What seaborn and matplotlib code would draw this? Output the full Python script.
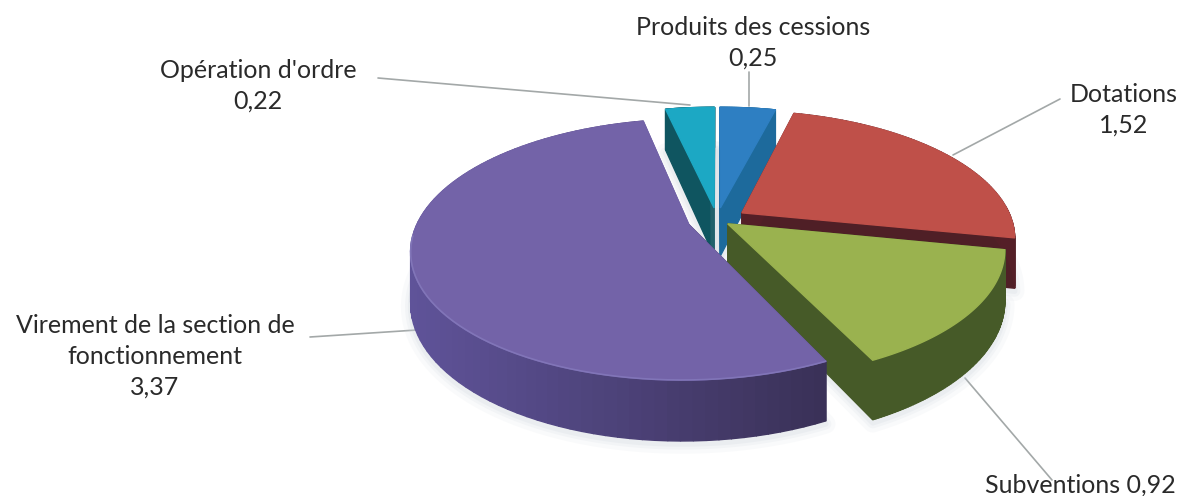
import matplotlib
matplotlib.use('Agg')
import matplotlib.pyplot as plt
from matplotlib.colors import to_rgb
from matplotlib.patches import Polygon
import numpy as np
import seaborn as sns

# values in reading order, clockwise from the top
categories = ['Produits des cessions', 'Dotations', 'Subventions',
              'Virement de la section de\nfonctionnement', "Opération d'ordre"]
values = [0.25, 1.52, 0.92, 3.37, 0.22]
explode = [0.10, 0.11, 0.05, 0.11, 0.10]

top_colors = ['#2e7fc2', '#bf5049', '#9ab24f', '#7363a8', '#1ca8c4']
wall_start = ['#1d6a9c', '#4f1f26', '#465a28', '#5f5399', '#0f5560']
wall_end = ['#1d6a9c', '#541f27', '#465a28', '#393056', '#0f5560']

# text and leader lines, in pixels of the 1184x496 picture
label_pos = [(753, 43), (1124, 110), (1080, 485), (155, 356), (258, 86)]
leaders = [((749, 72), (749, 106)),
           ((1060, 99), (953, 155)),
           ((965, 378), (1052, 480)),
           ((310, 337), (417, 330)),
           ((378, 78), (690, 105))]

# fake 3d: centre, radii, depth and perspective of the disc
CX, CY = 717, 220
SX, SY = 270, 124
DEPTH = 49
PERSP = 0.19

# far to near, so that nearer slices cover the others
draw_order = [4, 0, 1, 2, 3]


def project(x, y, z=0.0):
    w = 1 + PERSP * np.asarray(y)
    return CX + SX * np.asarray(x) / w, CY - (SY * np.asarray(y) - DEPTH * z) / w


def quad(ax, xs, ys, color, zorder):
    ax.add_patch(Polygon(np.column_stack([xs, ys]), closed=True, facecolor=color,
                         edgecolor=color, linewidth=1.0, zorder=zorder))


def draw_slice(ax, wedge, idx, zorder):
    cx, cy = wedge.center
    theta = np.radians(np.linspace(wedge.theta1, wedge.theta2, 90))
    arc_x = cx + wedge.r * np.cos(theta)
    arc_y = cy + wedge.r * np.sin(theta)
    start, end = np.array(to_rgb(wall_start[idx])), np.array(to_rgb(wall_end[idx]))

    # soft shadow under the slice
    low_x, low_y = project(np.r_[cx, arc_x], np.r_[cy, arc_y], 1.0)
    for lw, alpha in [(14, 0.10), (8, 0.14), (4, 0.18)]:
        ax.add_patch(Polygon(np.column_stack([low_x, low_y + 3]), closed=True,
                             facecolor='none', edgecolor='#c9d0da', linewidth=lw,
                             alpha=alpha, zorder=zorder - 1, joinstyle='round'))

    # radial walls
    for ex, ey, col in [(arc_x[0], arc_y[0], start), (arc_x[-1], arc_y[-1], end)]:
        tx, ty = project([cx, ex], [cy, ey], 0.0)
        bx, by = project([ex, cx], [ey, cy], 1.0)
        quad(ax, np.r_[tx, bx], np.r_[ty, by], col, zorder)

    # outer wall, shaded from left to right on the picture
    tx, ty = project(arc_x, arc_y, 0.0)
    bx, by = project(arc_x, arc_y, 1.0)
    frac = (tx - tx.min()) / (tx.max() - tx.min())
    for i in range(len(theta) - 1):
        col = start + (end - start) * frac[i]
        quad(ax, [tx[i], tx[i + 1], bx[i + 1], bx[i]],
             [ty[i], ty[i + 1], by[i + 1], by[i]], col, zorder)

    # top face
    fx, fy = project(np.r_[cx, arc_x], np.r_[cy, arc_y], 0.0)
    quad(ax, fx, fy, top_colors[idx], zorder + 0.5)
    if idx == 3:
        # light bevel along the near rim of the big slice
        near = arc_y < -0.1
        ax.plot(tx[near], ty[near], color='#8175b8', lw=1.2, zorder=zorder + 0.6)


sns.set_theme(style='white')
plt.rcParams['font.family'] = ['Lato', 'DejaVu Sans']

fig = plt.figure(figsize=(11.84, 4.96), dpi=100)
ax = fig.add_axes([0, 0, 1, 1])
wedges, _ = ax.pie(values, explode=explode, startangle=90, counterclock=False,
                   colors=sns.color_palette(top_colors))
geometry = list(wedges)
for w in wedges:
    w.set_visible(False)

ax.set_aspect('auto')
ax.set_xlim(0, 1184)
ax.set_ylim(496, 0)
ax.axis('off')

for n, idx in enumerate(draw_order):
    draw_slice(ax, geometry[idx], idx, 3 + n)

for (p0, p1) in leaders:
    ax.plot([p0[0], p1[0]], [p0[1], p1[1]], color='#a3a8a8', lw=1.2, zorder=1.5)

for name, val, pos in zip(categories, values, label_pos):
    amount = '{:.2f}'.format(val).replace('.', ',')
    sep = ' ' if name == 'Subventions' else '\n'
    ax.text(pos[0], pos[1], name + sep + amount, ha='center', va='center',
            fontsize=18, color='#2a2a2a', linespacing=1.42, zorder=20)

fig.savefig('out.png', dpi=100, facecolor='white')
